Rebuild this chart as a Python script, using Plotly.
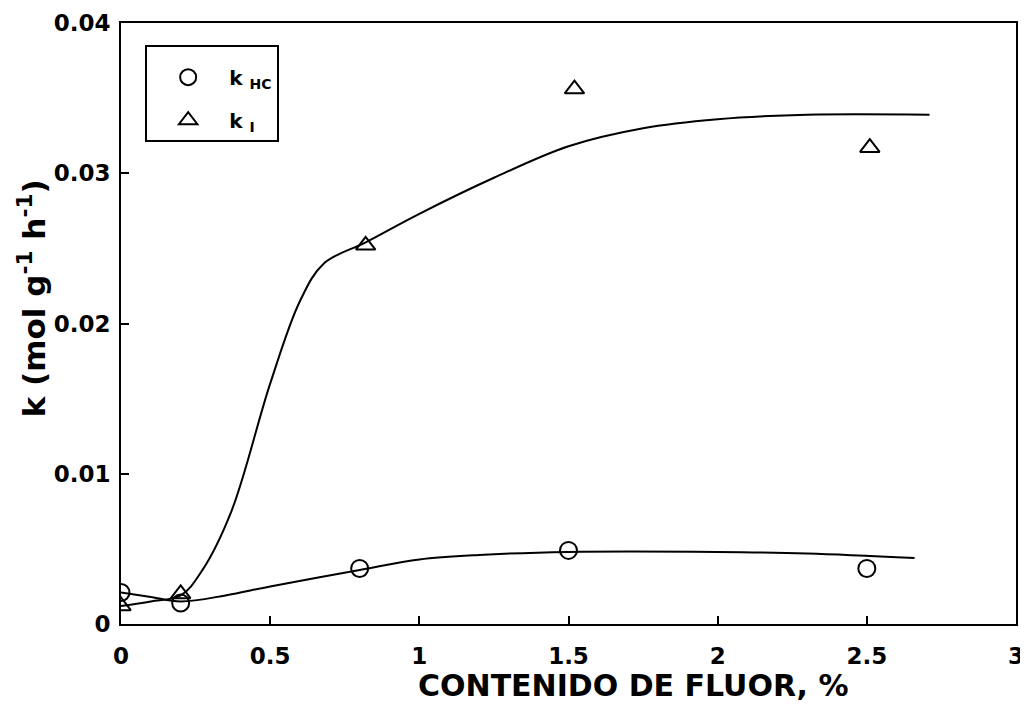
import plotly.graph_objects as go

# Measured points
x_hc = [0.0, 0.2, 0.8, 1.5, 2.5]
k_hc = [0.0021, 0.0014, 0.0037, 0.0049, 0.0037]
x_i = [0.0, 0.2, 0.82, 1.52, 2.51]
k_i = [0.0012, 0.0020, 0.0252, 0.0356, 0.0317]

# Fitted curves
cx_hc = [0.0, 0.1, 0.2, 0.35, 0.5, 0.8, 1.0, 1.2, 1.5, 2.0, 2.3, 2.66]
cy_hc = [0.0021, 0.0018, 0.0015, 0.0019, 0.0025, 0.0036, 0.0043, 0.0046, 0.0048, 0.0048, 0.0047, 0.0044]
cx_i = [0.0, 0.1, 0.2, 0.27, 0.37, 0.5, 0.6, 0.68, 0.82, 1.0, 1.25, 1.5, 1.75, 2.0, 2.3, 2.71]
cy_i = [0.0012, 0.0015, 0.0019, 0.0035, 0.0075, 0.0160, 0.0215, 0.0240, 0.0254, 0.0273, 0.0297, 0.0318, 0.0330, 0.0336, 0.0339, 0.0339]

x_ticks = [0, 0.5, 1, 1.5, 2, 2.5, 3]
y_ticks = [0, 0.01, 0.02, 0.03, 0.04]

x_title = "CONTENIDO DE FLUOR, %"
y_title = "k (mol g<sup>-1</sup> h<sup>-1</sup>)"

font_family = "DejaVu Sans, Arial, sans-serif"

fig = go.Figure()
fig.add_trace(go.Scatter(x=cx_hc, y=cy_hc, mode="lines", line=dict(color="black", width=2, shape="spline"),
                         showlegend=False, hoverinfo="skip"))
fig.add_trace(go.Scatter(x=cx_i, y=cy_i, mode="lines", line=dict(color="black", width=2, shape="spline"),
                         showlegend=False, hoverinfo="skip"))
fig.add_trace(go.Scatter(x=x_hc, y=k_hc, mode="markers", name="k <sub>HC</sub>", legendgroup="a",
                         marker=dict(symbol="circle-open", size=17, color="black", line=dict(width=2))))
fig.add_trace(go.Scatter(x=x_i, y=k_i, mode="markers", name="k <sub>I</sub>", legendgroup="b",
                         marker=dict(symbol="triangle-up-open", size=17, color="black", line=dict(width=2))))

fig.update_layout(
    width=1020, height=698,
    margin=dict(l=113, r=12, t=15, b=82),
    paper_bgcolor="white", plot_bgcolor="white",
    font=dict(family=font_family, color="black", size=20),
    legend=dict(x=0.027, y=0.963, xanchor="left", yanchor="top",
                bgcolor="white", bordercolor="black", borderwidth=2,
                title=dict(text=" ", font=dict(size=8)),
                font=dict(size=20, weight="bold"), itemwidth=72, tracegroupgap=14,
                entrywidth=121),
    xaxis=dict(range=[0, 3], tickvals=x_ticks, automargin=False,
               tickfont=dict(size=23, weight="bold"), ticklabelstandoff=10,
               ticks="inside", ticklen=8, tickwidth=2, tickcolor="black",
               showline=True, linecolor="black", linewidth=2, mirror=True,
               showgrid=False, zeroline=False),
    yaxis=dict(range=[0, 0.04], tickvals=y_ticks, automargin=False,
               tickfont=dict(size=23, weight="bold"), ticklabelstandoff=4,
               ticks="inside", ticklen=8, tickwidth=2, tickcolor="black",
               showline=True, linecolor="black", linewidth=2, mirror=True,
               showgrid=False, zeroline=False),
    annotations=[
        dict(text=x_title, xref="paper", yref="paper", x=0.573, y=-0.103,
             xanchor="center", yanchor="middle", showarrow=False,
             font=dict(size=30, weight="bold")),
        dict(text=y_title, xref="paper", yref="paper", x=-0.1, y=0.541,
             xanchor="center", yanchor="middle", showarrow=False, textangle=-90,
             font=dict(size=31, weight="bold")),
    ],
)

fig.write_html("out.html")
